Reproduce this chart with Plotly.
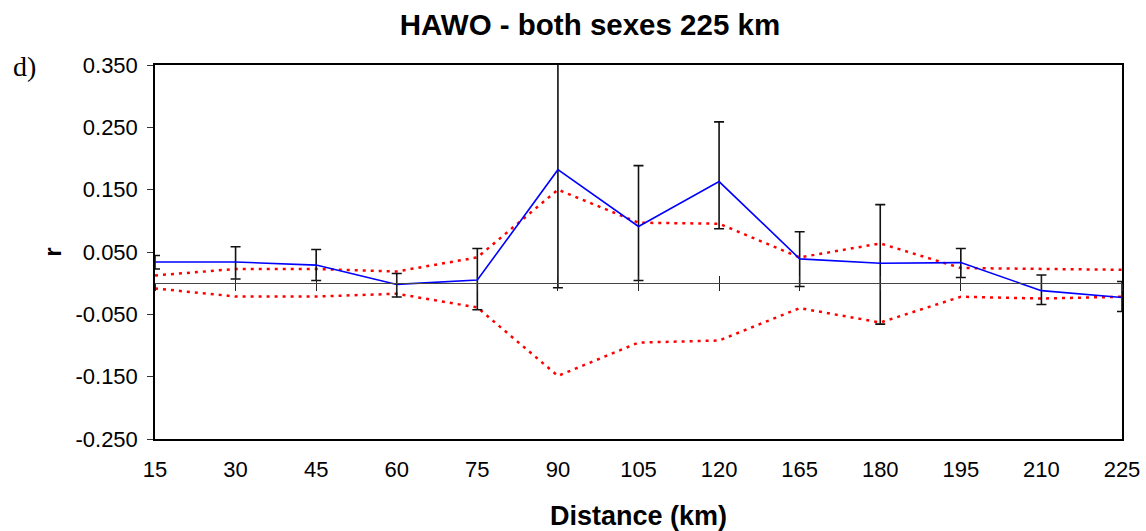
import plotly.graph_objects as go

distances = ["15", "30", "45", "60", "75", "90", "105", "120", "165", "180", "195", "210", "225"]
r_values = [0.034, 0.034, 0.029, -0.002, 0.005, 0.182, 0.091, 0.163, 0.039, 0.032, 0.033, -0.012, -0.023]
r_upper = [0.0445, 0.0585, 0.054, 0.0156, 0.0557, 0.38, 0.1886, 0.2588, 0.0826, 0.126, 0.0557, 0.013, 0.0027]
r_lower = [0.0227, 0.0066, 0.0043, -0.0223, -0.0427, -0.0074, 0.0043, 0.0874, -0.0053, -0.0657, 0.0092, -0.0342, -0.0455]
ci_upper = [0.0124, 0.0227, 0.0227, 0.0188, 0.0413, 0.150, 0.097, 0.0954, 0.0413, 0.0638, 0.0243, 0.0227, 0.0215]
ci_lower = [-0.0085, -0.0214, -0.0214, -0.017, -0.039, -0.1488, -0.0953, -0.092, -0.040, -0.0631, -0.0218, -0.0246, -0.0218]
y_ticks = [-0.25, -0.15, -0.05, 0.05, 0.15, 0.25, 0.35]
y_tick_labels = ["-0.250", "-0.150", "-0.050", "0.050", "0.150", "0.250", "0.350"]

x = list(range(len(distances)))
err_plus = [u - v for u, v in zip(r_upper, r_values)]
err_minus = [v - l for v, l in zip(r_values, r_lower)]

FONT = "Liberation Sans, Arial, sans-serif"
red_line = dict(color="#FF0000", width=2.5, dash="3px,5px")

fig = go.Figure()
fig.add_trace(go.Scatter(x=x, y=ci_upper, mode="lines", line=red_line, hoverinfo="skip", showlegend=False))
fig.add_trace(go.Scatter(x=x, y=ci_lower, mode="lines", line=red_line, hoverinfo="skip", showlegend=False))
fig.add_trace(go.Scatter(
    x=x, y=r_values, mode="lines",
    line=dict(color="#0000FF", width=1.6),
    error_y=dict(type="data", symmetric=False, array=err_plus, arrayminus=err_minus,
                 color="#111111", thickness=1.6, width=5),
    showlegend=False,
))
# invisible helper traces so the zero-crossing axes are drawn
for ax in ["x2", "x3"]:
    fig.add_trace(go.Scatter(x=x, y=r_values, xaxis=ax, mode="lines",
                             line=dict(width=0, color="rgba(0,0,0,0)"),
                             hoverinfo="skip", showlegend=False))

zero_pos = (0 - (-0.25)) / (0.35 - (-0.25))

L, R, T, B = 155, 24, 65, 92
W, H = 1146, 531

fig.update_layout(
    width=W, height=H,
    paper_bgcolor="white", plot_bgcolor="white",
    margin=dict(l=L, r=R, t=T, b=B, autoexpand=False),
    font=dict(family=FONT, color="black", size=22),
    title=dict(text="<b>HAWO - both sexes 225 km</b>", x=590 / W, xanchor="center",
               xref="container", y=1 - 25 / H, yanchor="middle", yref="container",
               font=dict(family=FONT, size=29.5, color="black")),
    xaxis=dict(
        range=[0, len(distances) - 1], tickmode="array", tickvals=x, ticktext=distances,
        showline=True, linecolor="black", linewidth=1.5, mirror=True, automargin=False,
        ticks="", showgrid=False, zeroline=False, ticklabelstandoff=10,
        title=dict(text="<b>Distance (km)</b>", font=dict(size=27), standoff=25),
    ),
    xaxis2=dict(
        overlaying="x", anchor="free", position=zero_pos, matches="x", automargin=False,
        showline=True, linecolor="#444444", linewidth=1.3,
        ticks="outside", ticklen=7, tickwidth=1.3, tickcolor="#222222",
        tickmode="array", tickvals=x, showticklabels=False, showgrid=False, zeroline=False,
    ),
    xaxis3=dict(
        overlaying="x", anchor="free", position=zero_pos, matches="x", automargin=False,
        showline=False, ticks="inside", ticklen=7, tickwidth=1.3, tickcolor="#222222",
        tickmode="array", tickvals=x, showticklabels=False, showgrid=False, zeroline=False,
    ),
    yaxis=dict(
        range=[-0.25, 0.35], tickmode="array", tickvals=y_ticks, ticktext=y_tick_labels,
        showline=True, linecolor="black", linewidth=1.5, mirror=True, automargin=False,
        ticks="outside", ticklen=6, tickwidth=1.3, tickcolor="#333333",
        showgrid=False, zeroline=False, ticklabelstandoff=5,
        title=dict(text="<b>r</b>", font=dict(size=24), standoff=7),
    ),
    annotations=[dict(text="d)", xref="paper", yref="paper",
                      x=(24 - L) / (W - L - R), y=(H - B - 66) / (H - T - B),
                      xanchor="center", yanchor="middle", showarrow=False,
                      font=dict(family="Liberation Serif, Times New Roman, serif", size=28, color="black"))],
)

fig.write_html("out.html")
